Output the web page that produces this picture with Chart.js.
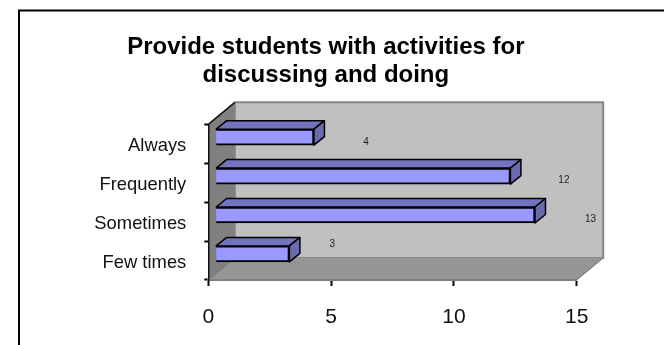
<!DOCTYPE html>
<html>
<head>
<meta charset="utf-8">
<style>
  html, body { margin: 0; padding: 0; background: #fff; }
  canvas { display: block; }
</style>
<script src="https://cdn.jsdelivr.net/npm/chart.js@4"></script>
</head>
<body>
<canvas id="chart" width="664" height="345"></canvas>
<script>
const titleLines = ['Provide students with activities for', 'discussing and doing'];
const categories = ['Always', 'Frequently', 'Sometimes', 'Few times'];
const responses = [4, 12, 13, 3];
const xTicks = [0, 5, 10, 15];

const FONT = '"Liberation Sans", Arial, sans-serif';

// 3D look: walls behind the plot, and the bars pushed back into them
const WALL_DX = 26.5, WALL_DY = 22;
const BAR_SHIFT_X = 7.4, BAR_SHIFT_Y = -6.6;
const BAR_DX = 10.5, BAR_DY = 8.5;
// where Excel left each value label, measured from the bar's end
const labelNudge = [[52, -1.5], [53.5, -2], [55.5, -2], [43, -16]];

function poly(ctx, pts, fill, stroke, width) {
    ctx.beginPath();
    pts.forEach((p, i) => i ? ctx.lineTo(p[0], p[1]) : ctx.moveTo(p[0], p[1]));
    ctx.closePath();
    if (fill) { ctx.fillStyle = fill; ctx.fill(); }
    if (stroke) { ctx.strokeStyle = stroke; ctx.lineWidth = width; ctx.lineJoin = 'round'; ctx.stroke(); }
}

const chartFrame = {
    id: 'chartFrame',
    beforeDraw(chart) {
        const { ctx, chartArea: a } = chart;
        ctx.save();
        // outer frame, only top and left are in view
        ctx.strokeStyle = '#000';
        ctx.lineWidth = 2;
        ctx.beginPath();
        ctx.moveTo(19, 345);
        ctx.lineTo(19, 10.5);
        ctx.lineTo(664, 10.5);
        ctx.stroke();
        // back wall
        poly(ctx, [[a.left + WALL_DX, a.top - WALL_DY], [a.right + WALL_DX, a.top - WALL_DY],
                   [a.right + WALL_DX, a.bottom - WALL_DY], [a.left + WALL_DX, a.bottom - WALL_DY]], '#c0c0c0', '#868686', 2);
        // side wall
        poly(ctx, [[a.left, a.top], [a.left + WALL_DX, a.top - WALL_DY],
                   [a.left + WALL_DX, a.bottom - WALL_DY], [a.left, a.bottom]], '#808080');
        // floor
        poly(ctx, [[a.left, a.bottom], [a.left + WALL_DX, a.bottom - WALL_DY],
                   [a.right + WALL_DX, a.bottom - WALL_DY], [a.right, a.bottom]], '#969696');
        ctx.strokeStyle = '#6e6e6e';
        ctx.lineWidth = 1;
        ctx.beginPath();
        ctx.moveTo(a.left, a.bottom);
        ctx.lineTo(a.left + WALL_DX, a.bottom - WALL_DY);
        ctx.moveTo(a.right, a.bottom);
        ctx.lineTo(a.right + WALL_DX, a.bottom - WALL_DY);
        ctx.stroke();
        ctx.strokeStyle = '#111';
        ctx.lineWidth = 1.5;
        ctx.beginPath();
        ctx.moveTo(a.left, a.top);
        ctx.lineTo(a.left + WALL_DX, a.top - WALL_DY);
        ctx.stroke();
        ctx.restore();
    },
    beforeDatasetDraw(chart) {
        chart.ctx.save();
        chart.ctx.translate(BAR_SHIFT_X, BAR_SHIFT_Y);
    },
    afterDatasetDraw(chart, args) {
        const ctx = chart.ctx;
        args.meta.data.forEach(bar => {
            const top = bar.y - bar.height / 2, bottom = bar.y + bar.height / 2;
            poly(ctx, [[bar.base, top], [bar.base + BAR_DX, top - BAR_DY], [bar.x + BAR_DX, top - BAR_DY], [bar.x, top]],
                 '#7373bf', '#000', 1.5);
            poly(ctx, [[bar.x, top], [bar.x + BAR_DX, top - BAR_DY], [bar.x + BAR_DX, bottom - BAR_DY], [bar.x, bottom]],
                 '#6a6aae', '#000', 1.5);
        });
        ctx.restore();
    },
    afterDatasetsDraw(chart) {
        const ctx = chart.ctx;
        ctx.save();
        ctx.font = '10px ' + FONT;
        ctx.fillStyle = '#222';
        ctx.textAlign = 'center';
        ctx.textBaseline = 'middle';
        chart.getDatasetMeta(0).data.forEach((bar, i) => {
            const n = labelNudge[i];
            ctx.fillText(String(responses[i]), bar.x + n[0] + BAR_SHIFT_X, bar.y + n[1]);
        });
        ctx.restore();
    }
};

new Chart(document.getElementById('chart'), {
    type: 'bar',
    data: {
        labels: categories,
        datasets: [{
            data: responses,
            backgroundColor: '#9999ff',
            borderColor: '#000',
            borderWidth: 2,
            barThickness: 16
        }]
    },
    plugins: [chartFrame],
    options: {
        indexAxis: 'y',
        responsive: false,
        animation: false,
        layout: { padding: { left: 75, right: 87.3, top: 0, bottom: 0 } },
        plugins: {
            legend: { display: false },
            tooltip: { enabled: false },
            title: {
                display: true,
                text: titleLines,
                color: '#000',
                font: { family: FONT, size: 24, weight: 'bold', lineHeight: 28 / 24 },
                padding: { top: 33, bottom: 35.3 },
                align: 'center',
                fullSize: true
            }
        },
        scales: {
            x: {
                type: 'linear',
                min: xTicks[0],
                max: xTicks[xTicks.length - 1],
                afterBuildTicks: scale => { scale.ticks = xTicks.map(v => ({ value: v })); },
                afterFit: scale => { scale.height = 65; },
                border: { color: '#808080', width: 2 },
                grid: { drawOnChartArea: false, drawTicks: true, tickLength: 6, color: '#000', tickWidth: 2 },
                ticks: { color: '#111', padding: 19, maxRotation: 0, font: { family: FONT, size: 21 } }
            },
            y: {
                type: 'category',
                afterFit: scale => { scale.width = 133.3; },
                border: { color: '#111', width: 1.5 },
                grid: { drawOnChartArea: false, drawTicks: true, tickLength: 4, color: '#000', tickWidth: 2 },
                ticks: { color: '#111', padding: 18, labelOffset: 2, font: { family: FONT, size: 18.4 } }
            }
        }
    }
});
</script>
</body>
</html>
